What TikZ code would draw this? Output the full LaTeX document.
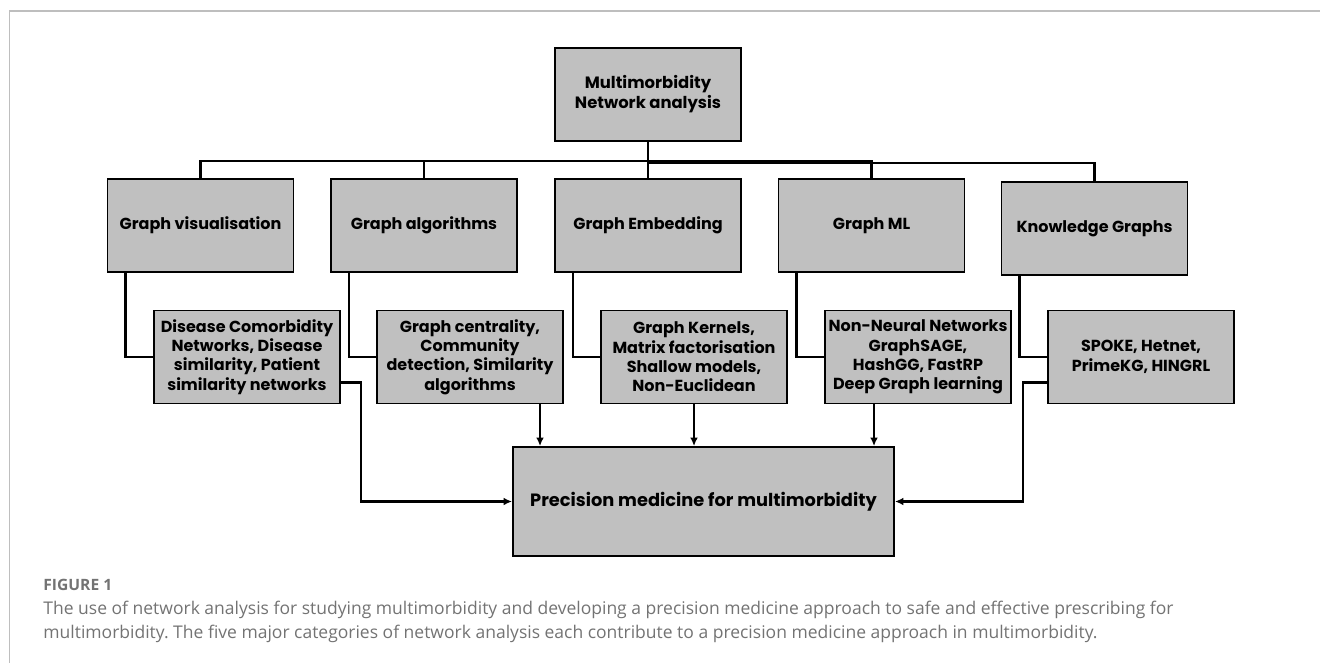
\documentclass[tikz,border=0pt]{standalone}
\usepackage{fontspec}
\usepackage{xcolor}
\usepackage{tikz}
\usetikzlibrary{arrows.meta}
\newfontfamily\boxfont{Poppins}
\newfontfamily\capfont{Open Sans}
\definecolor{boxgray}{RGB}{192,192,192}
\definecolor{capgray}{RGB}{115,115,115}
\definecolor{framegray}{RGB}{190,190,190}
\frenchspacing

\begin{document}
\begin{tikzpicture}[x=0.5pt, y=-0.5pt,
                box/.style={rectangle, draw, line width=0.9pt, fill=boxgray, minimum width=93pt,
                minimum height=46.5pt, inner sep=0pt, align=center,
                font=\boxfont\bfseries\fontsize{8}{9.7}\selectfont},
                link/.style={line width=1.3pt},
                arrow/.style={link, -{Latex[length=4.2pt,width=3.8pt]}}
            ]
        \useasboundingbox (0,0) rectangle (1320,663);
        \draw[framegray, line width=0.6pt] (1320,11) -- (9.5,11) -- (9.5,663);

        \node[box, font=\boxfont\bfseries\fontsize{8.2}{10}\selectfont] (top) at (648,94.5)
              {Multimorbidity\\Network analysis};

        \node[box] (gv)  at (200.5,225.7) {Graph visualisation};
        \node[box] (ga)  at (424,225.7)   {Graph algorithms};
        \node[box] (ge)  at (648,225.7)   {Graph Embedding};
        \node[box] (gml) at (871.5,225.7) {Graph ML};
        \node[box] (kg)  at (1094.5,228.5) {Knowledge Graphs};

        \node[box] (dcn) at (247,357)  {Disease Comorbidity\\Networks, Disease\\similarity, Patient\\similarity networks};
        \node[box] (gc)  at (470,357)  {Graph centrality,\\Community\\detection, Similarity\\algorithms};
        \node[box] (gk)  at (694,357)  {Graph Kernels,\\Matrix factorisation\\Shallow models,\\Non-Euclidean};
        \node[box] (nn)  at (918,357)  {Non-Neural Networks\\GraphSAGE,\\HashGG, FastRP\\Deep Graph learning};
        \node[box] (sp)  at (1141,357) {SPOKE, Hetnet,\\PrimeKG, HINGRL};

        \node[box, minimum width=190.5pt, minimum height=54.5pt,
              font=\boxfont\bfseries\fontsize{8.9}{10}\selectfont] (pm) at (703.5,501.5)
              {Precision medicine for multimorbidity};

        % tree from the top box
        \coordinate (bus)  at (648,161);
        \coordinate (bus2) at (648,163);
        \draw[link] (top.south) -- (top.south |- bus) -| (gv.north);
        \draw[link] (top.south) -- (top.south |- bus) -| (ga.north);
        \draw[link] (top.south) -- (ge.north);
        \draw[link] (top.south) -- (top.south |- bus) -| (gml.north);
        \draw[link] (top.south) -- (top.south |- bus2) -| (kg.north);

        % categories to methods
        \draw[link] ([xshift=9.5pt]gv.south west)  |- (dcn.west);
        \draw[link] ([xshift=9.5pt]ga.south west)  |- (gc.west);
        \draw[link] ([xshift=9.5pt]ge.south west)  |- (gk.west);
        \draw[link] ([xshift=9.5pt]gml.south west) |- (nn.west);
        \draw[link] ([xshift=9.5pt]kg.south west)  |- (sp.west);

        % methods to precision medicine
        \draw[arrow] ([yshift=-12.8pt]dcn.east) -- ++(20,0) |- (pm.west);
        \draw[arrow] ([xshift=35pt]gc.south) -- ([xshift=35pt]gc.south |- pm.north);
        \draw[arrow] (gk.south) -- (gk.south |- pm.north);
        \draw[arrow] ([xshift=-22pt]nn.south) -- ([xshift=-22pt]nn.south |- pm.north);
        \draw[arrow] ([yshift=-12.8pt]sp.west) -- ++(-24,0) |- (pm.east);

        \node[anchor=base west, inner sep=0pt, text=capgray,
              font=\capfont\bfseries\fontsize{7.8}{9}\selectfont] (fig) at (43,590) {FIGURE 1};
        \node[anchor=base west, inner sep=0pt, text=capgray,
              font=\capfont\fontsize{8.75}{12}\selectfont] (cap1) at (43,614)
              {The use of network analysis for studying multimorbidity and developing a precision medicine approach to safe and effective prescribing for};
        \node[anchor=base west, inner sep=0pt, text=capgray,
              font=\capfont\fontsize{8.75}{12}\selectfont] (cap2) at (43,638)
              {multimorbidity. The five major categories of network analysis each contribute to a precision medicine approach in multimorbidity.};
            \end{tikzpicture}
\end{document}
